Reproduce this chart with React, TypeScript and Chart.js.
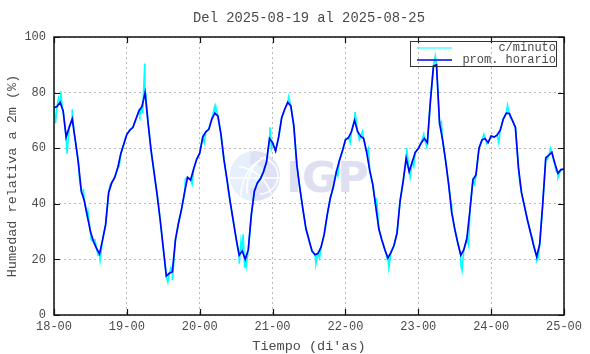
import React, { useEffect, useRef } from 'react';
import { Chart, registerables } from 'chart.js';

Chart.register(...registerables);

// Hourly mean relative humidity (%), hour 0 = 18-00 ... hour 168 = 25-00
const hourlyHumidity: number[] = [
  74.6, 75, 76.5, 73.5, 64, 67.5, 70.5, 63, 55, 44.5, 41, 35.5, 30, 26.5, 24, 22, 27, 32.5, 44, 47.5, 49.5, 53, 58, 61.5,
  65, 66.5, 67.5, 70.5, 73.5, 75, 80, 69, 59, 51, 43, 34, 24, 14, 15, 15.6, 27, 33, 38, 44, 49.5, 48.6, 52.5, 56,
  58.2, 64, 65.9, 66.8, 70.5, 72.6, 71.5, 65, 55.8, 48.6, 41, 34.2, 27.5, 21.5, 23, 20, 23.5, 36, 44.5, 47.5, 49, 51.5, 55, 63.5,
  62, 59, 64, 71, 74, 76.5, 75.2, 68, 54, 45.5, 38, 31, 27, 23, 21.7, 22.2, 24.5, 29, 36, 42, 46, 51.5, 55.5, 59,
  63, 63.8, 66, 70, 66, 64.3, 63.5, 58.5, 52, 47, 39, 31, 27, 23.5, 20.5, 22.5, 25, 29.5, 41, 48, 56.4, 51.6, 55, 58.5,
  59.9, 62, 63.5, 62, 77, 89.5, 90, 69, 63, 55.5, 47, 37, 31, 26, 21.5, 23.5, 27.5, 37.5, 48.6, 50.4, 60, 63, 63.5, 62,
  64.4, 64, 64.8, 66.5, 70.5, 72.6, 72.5, 70, 67.5, 53, 44, 39, 34, 29.5, 25, 21, 25.5, 40, 56.5, 57.5, 58.5, 54.5, 51, 52.3,
  52.5,
];

// Per-minute excursions visible in cyan: [hour, value]
const minuteExcursions: [number, number][] = [
  [0.5, 69], [1.5, 78], [2.2, 80.5], [2.8, 74], [3.8, 66], [4.3, 58], [5.5, 69], [6.0, 74], [6.6, 66],
  [8.5, 48], [9.7, 45], [11.2, 37], [12.3, 27], [13.5, 27], [14.5, 21.5], [15.2, 19.8], [18.5, 47],
  [21.5, 53.5], [23.3, 63], [26.5, 69], [28.3, 72], [29.2, 72.5], [29.9, 90.5], [30.3, 78], [33.5, 47],
  [36.8, 16], [37.5, 11.8], [38.5, 17], [39.0, 12.5], [43.3, 49], [45.5, 47], [49.5, 62], [52.8, 74.5],
  [53.3, 75], [57.5, 44], [60.5, 24], [61.0, 18.5], [61.6, 26.5], [62.3, 29], [62.8, 17], [63.3, 17.5],
  [71.2, 67.5], [71.6, 60], [77.3, 78.5], [84.5, 24.5], [86.3, 18.5], [87.5, 20.5], [93.5, 50],
  [97.6, 62], [99.2, 73], [100.6, 63], [101.6, 66], [103.6, 60], [106.3, 42], [109.8, 20], [110.3, 17],
  [115.8, 54], [116.2, 60], [117.3, 49.5], [118.5, 53.5], [121.8, 65], [122.8, 60.5], [125.6, 93],
  [126.1, 88], [127.6, 69.5], [130.8, 40], [134.0, 18], [134.4, 16], [136.6, 25], [138.6, 47],
  [141.6, 65], [142.6, 61.5], [146.5, 62], [149.4, 75.5], [150.3, 71], [153.5, 47], [157.5, 28],
  [159.0, 19.5], [159.5, 20.5], [162.5, 56], [163.6, 60], [164.7, 55], [165.3, 52], [166.0, 49.5],
];

const xTickLabels: string[] = ['18-00', '19-00', '20-00', '21-00', '22-00', '23-00', '24-00', '25-00'];
const yTickValues: number[] = [0, 20, 40, 60, 80, 100];
const titleText = 'Del 2025-08-19 al 2025-08-25';
const xTitle = "Tiempo (di'as)";
const yTitle = 'Humedad relativa a 2m (%)';
const seriesNames: string[] = ['c/minuto', 'prom. horario'];
const watermarkText = 'IGP';

const MONO = '"Liberation Mono", "DejaVu Sans Mono", monospace';
const TEXT_COLOR = '#4a4a4a';

export default function App() {
  const canvasRef = useRef<HTMLCanvasElement | null>(null);

  useEffect(() => {
    document.body.style.margin = '0';
    const canvas = canvasRef.current;
    if (!canvas) return;

    const hourlyPoints = hourlyHumidity.map((v, i) => ({ x: i, y: v }));
    const minutePoints = [...hourlyPoints, ...minuteExcursions.map(([x, y]) => ({ x, y }))].sort(
      (a, b) => a.x - b.x
    );

    const decorPlugin = {
      id: 'decor',
      beforeDatasetsDraw(chart: any) {
        const ctx = chart.ctx;
        const { left, right, top, bottom } = chart.chartArea;
        const cx = left + (right - left) * 0.394;
        const cy = top + (bottom - top) * 0.5;
        ctx.save();
        ctx.beginPath();
        ctx.arc(cx, cy, 25, 0, Math.PI * 2);
        ctx.fillStyle = '#e0e1f5';
        ctx.fill();
        ctx.beginPath();
        ctx.arc(cx, cy, 25, Math.PI * 0.55, Math.PI * 1.45);
        ctx.arc(cx - 2, cy, 12, Math.PI * 1.4, Math.PI * 0.6, false);
        ctx.closePath();
        ctx.fillStyle = '#e6f0fd';
        ctx.fill();
        ctx.strokeStyle = '#ffffff';
        ctx.lineWidth = 1.5;
        ctx.beginPath();
        ctx.arc(cx + 28, cy + 12, 36, Math.PI * 0.95, Math.PI * 1.35);
        ctx.stroke();
        ctx.beginPath();
        ctx.arc(cx + 30, cy + 20, 44, Math.PI * 1.0, Math.PI * 1.3);
        ctx.stroke();
        ctx.beginPath();
        ctx.arc(cx - 22, cy + 30, 40, Math.PI * 1.55, Math.PI * 1.9);
        ctx.stroke();
        ctx.beginPath();
        ctx.arc(cx + 5, cy, 18, Math.PI * 1.5, Math.PI * 0.5);
        ctx.stroke();
        ctx.beginPath();
        ctx.moveTo(cx - 25, cy + 2);
        ctx.lineTo(cx + 25, cy + 2);
        ctx.stroke();
        ctx.font = 'bold 43px "DejaVu Sans", sans-serif';
        ctx.fillStyle = '#dfdff2';
        ctx.textAlign = 'left';
        ctx.textBaseline = 'alphabetic';
        ctx.fillText(watermarkText, cx + 31, cy + 16);
        ctx.restore();
      },
      afterDraw(chart: any) {
        const ctx = chart.ctx;
        const { left, right, top, bottom } = chart.chartArea;
        const xs = chart.scales.x;
        const ys = chart.scales.y;
        ctx.save();
        ctx.strokeStyle = '#111111';
        ctx.lineWidth = 1.5;
        ctx.strokeRect(left, top, right - left, bottom - top);
        ctx.lineWidth = 1.2;
        ctx.beginPath();
        xTickLabels.forEach((_, i) => {
          const px = Math.round(xs.getPixelForValue(i * 24)) + 0.5;
          ctx.moveTo(px, bottom);
          ctx.lineTo(px, bottom - 6);
          ctx.moveTo(px, top);
          ctx.lineTo(px, top + 6);
        });
        yTickValues.forEach((v) => {
          const py = Math.round(ys.getPixelForValue(v)) + 0.5;
          ctx.moveTo(left, py);
          ctx.lineTo(left + 6, py);
          ctx.moveTo(right, py);
          ctx.lineTo(right - 6, py);
        });
        ctx.stroke();

        ctx.fillStyle = TEXT_COLOR;
        ctx.textAlign = 'center';
        ctx.textBaseline = 'middle';
        ctx.font = `13.8px ${MONO}`;
        ctx.fillText(titleText, (left + right) / 2, 18);
        ctx.font = `13.5px ${MONO}`;
        ctx.fillText(xTitle, (left + right) / 2, 346);
        ctx.save();
        ctx.translate(12, (top + bottom) / 2);
        ctx.rotate(-Math.PI / 2);
        ctx.fillText(yTitle, 0, 0);
        ctx.restore();

        const lx = 410.5, ly = 41.5, lw = 146, lh = 25;
        ctx.strokeStyle = '#333333';
        ctx.lineWidth = 1;
        ctx.strokeRect(lx, ly, lw, lh);
        ctx.strokeStyle = '#00ffff';
        ctx.beginPath();
        ctx.moveTo(417, 48);
        ctx.lineTo(452, 48);
        ctx.stroke();
        ctx.strokeStyle = '#0000ff';
        ctx.lineWidth = 1.6;
        ctx.beginPath();
        ctx.moveTo(417, 60);
        ctx.lineTo(452, 60);
        ctx.stroke();
        ctx.font = `12px ${MONO}`;
        ctx.fillStyle = TEXT_COLOR;
        ctx.textAlign = 'right';
        ctx.fillText(seriesNames[0], 556, 48);
        ctx.fillText(seriesNames[1], 556, 60);
        ctx.restore();
      },
    };

    const chart = new Chart(canvas, {
      type: 'line',
      data: {
        datasets: [
          {
            label: seriesNames[1],
            data: hourlyPoints,
            borderColor: '#0000ff',
            borderWidth: 1.7,
            pointRadius: 0,
            tension: 0,
            fill: false,
          },
          {
            label: seriesNames[0],
            data: minutePoints,
            borderColor: '#00ffff',
            borderWidth: 1.6,
            pointRadius: 0,
            tension: 0,
            fill: false,
          },
        ],
      },
      options: {
        responsive: false,
        animation: false,
        events: [],
        layout: { padding: { left: 0, right: 26, top: 37, bottom: 0 } },
        plugins: {
          legend: { display: false },
          title: { display: false },
          tooltip: { enabled: false },
        },
        scales: {
          x: {
            type: 'linear',
            min: 0,
            max: 168,
            afterFit: (s: any) => {
              s.height = 39;
            },
            afterBuildTicks: (s: any) => {
              s.ticks = xTickLabels.map((_, i) => ({ value: i * 24 }));
            },
            ticks: {
              callback: (v: any) => xTickLabels[Math.round(Number(v) / 24)],
              font: { family: MONO, size: 12 },
              color: TEXT_COLOR,
              padding: 5,
              maxRotation: 0,
              autoSkip: false,
            },
            grid: { color: '#b8b8b8', lineWidth: 1, drawTicks: false },
            border: { display: false, dash: [2, 3] },
          },
          y: {
            min: 0,
            max: 100,
            afterFit: (s: any) => {
              s.width = 54;
            },
            afterBuildTicks: (s: any) => {
              s.ticks = yTickValues.map((v) => ({ value: v }));
            },
            ticks: {
              font: { family: MONO, size: 12 },
              color: TEXT_COLOR,
              padding: 8,
            },
            grid: { color: '#b8b8b8', lineWidth: 1, drawTicks: false },
            border: { display: false, dash: [2, 3] },
          },
        },
      },
      plugins: [decorPlugin],
    } as any);

    return () => chart.destroy();
  }, []);

  return (
    <div style={{ width: 590, height: 354, background: '#ffffff' }}>
      <canvas ref={canvasRef} width={590} height={354} style={{ display: 'block' }} />
    </div>
  );
}
